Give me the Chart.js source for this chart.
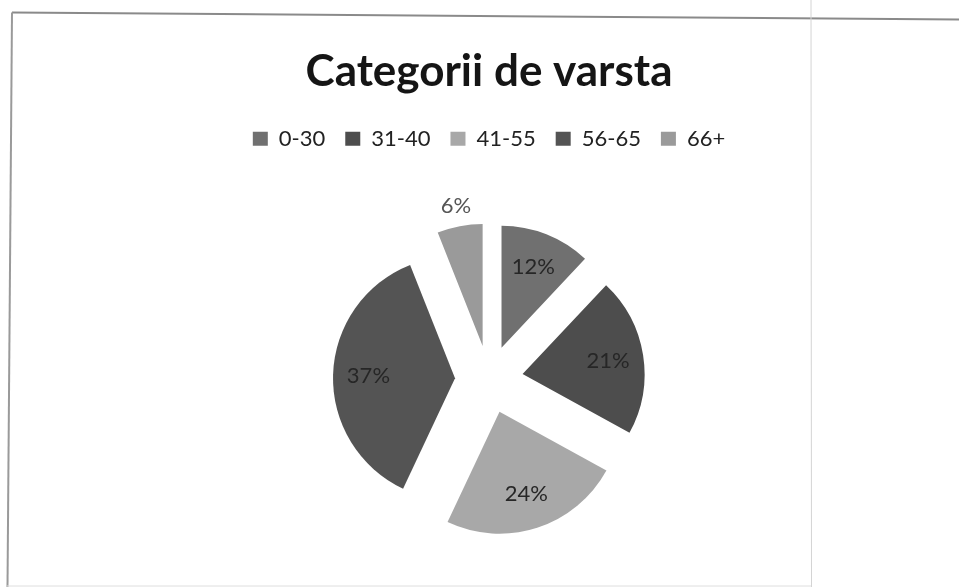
<!DOCTYPE html>
<html>
<head>
<meta charset="utf-8">
<script src="https://cdn.jsdelivr.net/npm/chart.js@4"></script>
<style>
  html, body { margin: 0; padding: 0; background: #ffffff; overflow: hidden; }
  #wrap { position: relative; width: 959px; height: 587px; overflow: hidden; }
  #deco { position: absolute; left: 0; top: 0; }
  canvas#c { position: absolute; left: 0; top: 0; }
</style>
</head>
<body>
<div id="wrap">
  <svg id="deco" width="959" height="587">
    <line x1="12" y1="12.5" x2="959" y2="19.5" stroke="#8a8a8a" stroke-width="2"/>
    <line x1="12" y1="12.5" x2="7.5" y2="587" stroke="#9a9a9a" stroke-width="2"/>
    <line x1="7" y1="586" x2="811" y2="586" stroke="#dedede" stroke-width="1"/>
    <line x1="811" y1="0" x2="811.5" y2="587" stroke="#d4d4d4" stroke-width="1"/>
  </svg>
  <canvas id="c" width="959" height="610"></canvas>
</div>
<script>
// ---- data ----
const titleText = 'Categorii de varsta';
const categories = ['0-30', '31-40', '41-55', '56-65', '66+'];
const percentages = [12, 21, 24, 37, 6];
const sliceColors = ['#707070', '#4d4d4d', '#a8a8a8', '#545454', '#9a9a9a'];

const EXPLODE = 34;      // pixel distance each slice is pulled out
const PIE_RADIUS = 122;

// draw exploded arcs using Chart.js arc elements
const explodePlugin = {
  id: 'explode',
  beforeDatasetDraw(chart, args) {
    const ctx = chart.ctx;
    args.meta.data.forEach(arc => {
      const mid = (arc.startAngle + arc.endAngle) / 2;
      ctx.save();
      ctx.translate(Math.cos(mid) * EXPLODE, Math.sin(mid) * EXPLODE);
      arc.draw(ctx);
      ctx.restore();
    });
    return false;
  }
};

// percentage labels
const labelPlugin = {
  id: 'pctLabels',
  afterDatasetsDraw(chart) {
    const ctx = chart.ctx;
    const meta = chart.getDatasetMeta(0);
    const data = chart.data.datasets[0].data;
    const total = data.reduce((a, b) => a + b, 0);
    ctx.save();
    ctx.font = '22px Lato';
    ctx.textAlign = 'center';
    ctx.textBaseline = 'middle';
    meta.data.forEach((arc, i) => {
      const mid = (arc.startAngle + arc.endAngle) / 2;
      const cx = arc.x + Math.cos(mid) * EXPLODE;
      const cy = arc.y + Math.sin(mid) * EXPLODE;
      const share = data[i] / total * 100;
      const outside = share < 10;
      const r = outside ? arc.outerRadius + 21 : arc.outerRadius * 0.71;
      ctx.fillStyle = outside ? '#555555' : '#262626';
      ctx.fillText(Math.round(share) + '%', cx + Math.cos(mid) * r, cy + Math.sin(mid) * r);
    });
    ctx.restore();
  }
};

new Chart(document.getElementById('c'), {
  type: 'pie',
  data: {
    labels: categories,
    datasets: [{
      data: percentages,
      backgroundColor: sliceColors,
      borderWidth: 0
    }]
  },
  options: {
    responsive: false,
    animation: false,
    events: [],
    radius: PIE_RADIUS,
    layout: { padding: { top: 0, left: 40, right: 21, bottom: 11 } },
    plugins: {
      title: {
        display: true,
        text: titleText,
        color: '#151515',
        font: { family: 'Lato', size: 44, weight: 'bold', lineHeight: 1.2 },
        padding: { top: 45, bottom: 10 }
      },
      legend: {
        display: true,
        position: 'top',
        labels: {
          color: '#222222',
          font: { family: 'Lato', size: 22 },
          boxWidth: 15,
          boxHeight: 14,
          padding: 20
        }
      },
      tooltip: { enabled: false }
    }
  },
  plugins: [explodePlugin, labelPlugin]
});
</script>
</body>
</html>
